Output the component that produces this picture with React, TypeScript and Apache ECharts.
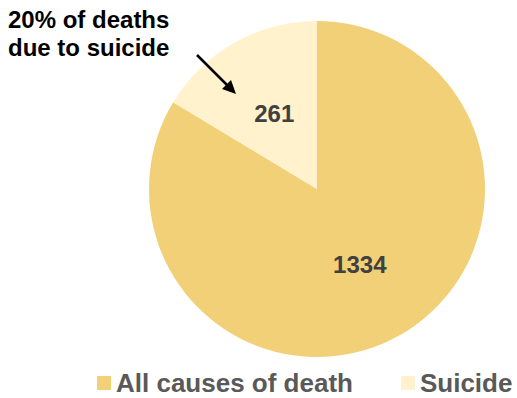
import React, { useEffect, useRef } from "react";
import * as echarts from "echarts";

const categories = ["All causes of death", "Suicide"];
const values = [1334, 261];
const colors = ["#F2D077", "#FFF2CC"];
const annotationLines = ["20% of deaths", "due to suicide"];

export default function App() {
  const ref = useRef<HTMLDivElement>(null);
  useEffect(() => {
    if (!ref.current) return;
    const chart = echarts.init(ref.current, null, { renderer: "svg" });
    const font = "'Liberation Sans', Arial, sans-serif";
    chart.setOption({
      animation: false,
      legend: {
        data: categories,
        top: 370,
        left: 97,
        width: 440,
        padding: 0,
        itemWidth: 14,
        itemHeight: 14,
        itemGap: 48,
        icon: "rect",
        textStyle: { fontFamily: font, fontWeight: "bold", fontSize: 26, lineHeight: 26, color: "#595959" },
      },
      graphic: [
        {
          type: "text",
          left: 8,
          top: 5,
          z: 100,
          style: {
            text: annotationLines.join("\n"),
            fontFamily: font,
            fontWeight: "bold",
            fontSize: 24,
            lineHeight: 28,
            fill: "#000000",
          },
        },
        {
          type: "line",
          z: 100,
          shape: { x1: 197, y1: 55, x2: 228, y2: 86 },
          style: { stroke: "#000", lineWidth: 2.5 },
        },
        {
          type: "polygon",
          z: 100,
          shape: { points: [[236, 94], [222, 89], [231, 80]] },
          style: { fill: "#000" },
        },
      ],
      series: [
        {
          type: "pie",
          z: 1,
          center: [317, 189],
          radius: [0, 168],
          startAngle: 90,
          clockwise: true,
          label: {
            show: true,
            position: "inside",
            formatter: "{c}",
            fontFamily: font,
            fontWeight: "bold",
            fontSize: 24,
            color: "#404040",
          },
          labelLine: { show: false },
          emphasis: { disabled: true },
          data: categories.map((c, i) => ({
            name: c,
            value: values[i],
            itemStyle: { color: colors[i] },
          })),
        },
      ],
    });
    return () => chart.dispose();
  }, []);
  return (
    <div
      ref={ref}
      style={{ position: "fixed", left: 0, top: 0, width: 517, height: 398, background: "#fff" }}
    />
  );
}
